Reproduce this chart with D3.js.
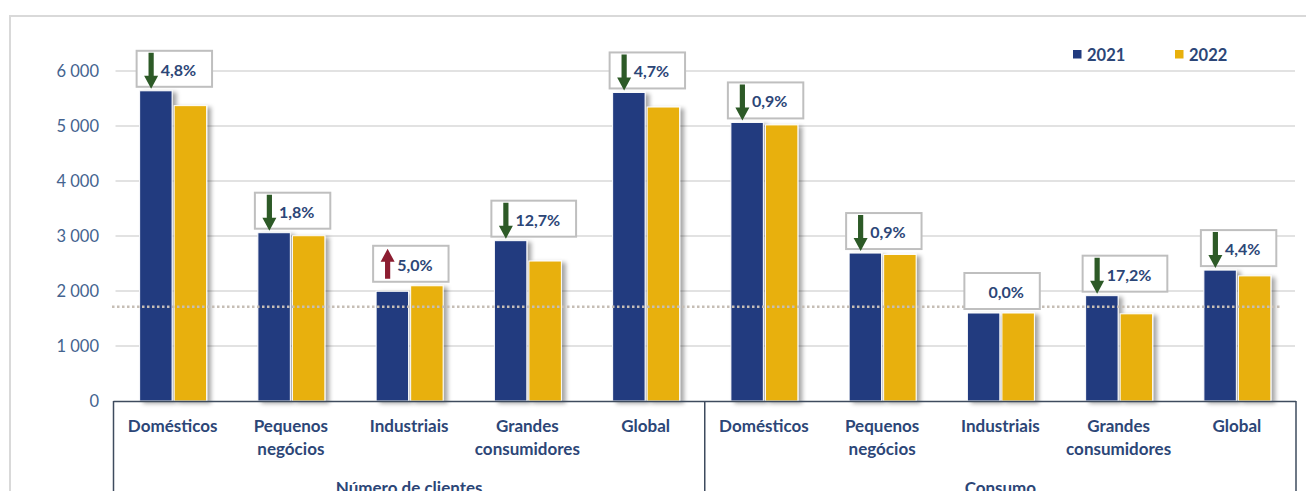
<!DOCTYPE html>
<html>
<head>
<meta charset="utf-8">
<script src="https://cdn.jsdelivr.net/npm/d3@7"></script>
<style>
  html, body { margin: 0; padding: 0; background: #fff; }
  svg { display: block; font-family: Lato, "Open Sans", sans-serif; }
</style>
</head>
<body>
<svg id="chart" width="1306" height="491"></svg>
<script>
// Segment groups and customer categories
const groups = ["Número de clientes", "Consumo"];
const categories = ["Domésticos", "Pequenos negócios", "Industriais", "Grandes consumidores", "Global"];
const years = ["2021", "2022"];

// Values per segment (first five: number of clients, last five: consumption)
const values2021 = [5640, 3060, 1995, 2915, 5610, 5065, 2690, 1600, 1915, 2380];
const values2022 = [5370, 3005, 2095, 2545, 5345, 5020, 2665, 1600, 1585, 2275];

// Year-on-year change shown above each pair of bars
const changeLabels = ["4,8%", "1,8%", "5,0%", "12,7%", "4,7%", "0,9%", "0,9%", "0,0%", "17,2%", "4,4%"];
const changeDirections = ["down", "down", "up", "down", "down", "down", "down", "none", "down", "down"];

// Reference level (dotted line)
const referenceValue = 1715;

const yTicks = [0, 1000, 2000, 3000, 4000, 5000, 6000];

const colors = { "2021": "#213B7F", "2022": "#E8B00B" };
const arrowColors = { down: "#2D5A27", up: "#8C1D31" };
const textColor = "#2C4677";

const rows = [];
groups.forEach((g, gi) => categories.forEach((c, ci) => {
  const i = gi * categories.length + ci;
  rows.push({ key: g + "|" + c, group: g, name: c,
    v2021: values2021[i], v2022: values2022[i],
    label: changeLabels[i], dir: changeDirections[i] });
}));

const svg = d3.select("#chart");
const plotLeft = 113.5, plotRight = 1296, plotTop = 71, plotBottom = 401;

const x = d3.scaleBand().domain(rows.map(d => d.key)).range([plotLeft, plotRight]).padding(0);
const bw = x.bandwidth();
const xInner = d3.scaleBand().domain(years).range([bw / 2 - 33, bw / 2 + 34]).paddingInner(0.06);
const y = d3.scaleLinear().domain([0, 6000]).range([plotBottom, plotTop]);

// Shadow for bars
const defs = svg.append("defs");
const f = defs.append("filter").attr("id", "barShadow")
  .attr("x", "-20%").attr("y", "-10%").attr("width", "160%").attr("height", "130%");
f.append("feDropShadow").attr("dx", 4).attr("dy", 2).attr("stdDeviation", 2)
  .attr("flood-color", "#000").attr("flood-opacity", 0.35);

// Outer chart frame
svg.append("rect").attr("x", 10).attr("y", 16).attr("width", 1320).attr("height", 500)
  .attr("fill", "none").attr("stroke", "#D9D9D9").attr("stroke-width", 2);

// Gridlines
svg.append("g").selectAll("line").data(yTicks.filter(t => t > 0)).join("line")
  .attr("x1", plotLeft + 2).attr("x2", plotRight - 1)
  .attr("y1", d => y(d)).attr("y2", d => y(d))
  .attr("stroke", "#D9D9D9").attr("stroke-width", 1.5);

// Y axis
const yAxis = d3.axisLeft(y).tickValues(yTicks)
  .tickFormat(d => d3.format(",")(d).replace(/,/g, " "))
  .tickSize(0).tickPadding(0);
const ya = svg.append("g").attr("transform", `translate(99,0)`).call(yAxis);
ya.select(".domain").remove();
ya.selectAll("text").attr("font-size", 16.5).attr("fill", "#44638F")
  .attr("font-family", "Lato, sans-serif");

// Bars
const barG = svg.append("g").selectAll("g").data(rows).join("g")
  .attr("transform", d => `translate(${x(d.key)},0)`);
barG.selectAll("rect").data(d => years.map(yr => ({ yr, v: d["v" + yr] }))).join("rect")
  .attr("x", d => xInner(d.yr)).attr("width", xInner.bandwidth())
  .attr("y", d => y(d.v)).attr("height", d => y(0) - y(d.v))
  .attr("fill", d => colors[d.yr])
  .attr("stroke", "#fff").attr("stroke-width", 1)
  .attr("filter", "url(#barShadow)");

// Dotted reference line
svg.append("line")
  .attr("x1", 112).attr("x2", 1281)
  .attr("y1", y(referenceValue)).attr("y2", y(referenceValue))
  .attr("stroke", "#C6BEB5").attr("stroke-width", 2.5)
  .attr("stroke-dasharray", "2.5 2.5");

// Change annotations
const boxH = 36;
const ann = svg.append("g").selectAll("g").data(rows).join("g");
ann.each(function (d) {
  const g = d3.select(this);
  const barLeft = x(d.key) + xInner("2021");
  const topVal = Math.max(d.v2021, d.v2022);
  const boxBottom = y(topVal) - 4;
  const boxTop = boxBottom - boxH;
  const boxLeft = barLeft - 3;
  const ax = barLeft + 11.5;
  const txt = g.append("text")
    .attr("font-size", 16).attr("font-weight", 700).attr("fill", textColor)
    .attr("dominant-baseline", "central")
    .attr("y", boxTop + boxH / 2 + 0.5)
    .text(d.label);
  const tw = txt.node().getComputedTextLength();
  const boxW = Math.max(75, tw + 40);
  if (d.dir === "none") {
    txt.attr("x", boxLeft + boxW / 2 + 4).attr("text-anchor", "middle");
  } else {
    txt.attr("x", ax + 9.5);
  }
  g.insert("rect", "text")
    .attr("x", boxLeft).attr("y", boxTop).attr("width", boxW).attr("height", boxH)
    .attr("fill", "#fff").attr("stroke", "#BFBFBF").attr("stroke-width", 2);
  if (d.dir !== "none") {
    const sw = 2.6, hw = 7, hh = 13;
    let pts;
    if (d.dir === "down") {
      const t0 = boxTop + 2, tip = boxBottom + 2;
      pts = [[ax - sw, t0], [ax + sw, t0], [ax + sw, tip - hh], [ax + hw, tip - hh],
             [ax, tip], [ax - hw, tip - hh], [ax - sw, tip - hh]];
    } else {
      const tip = boxTop + 3, b0 = boxBottom - 3;
      pts = [[ax - sw, b0], [ax + sw, b0], [ax + sw, tip + hh], [ax + hw, tip + hh],
             [ax, tip], [ax - hw, tip + hh], [ax - sw, tip + hh]];
    }
    g.append("path").attr("d", d3.line()(pts) + "Z").attr("fill", arrowColors[d.dir]);
  }
});

// Category frame below the bars
const frame = svg.append("g").attr("stroke", "#3E4B5E").attr("stroke-width", 1.5).attr("fill", "none");
frame.append("line").attr("x1", plotLeft).attr("x2", plotRight)
  .attr("y1", plotBottom + 0.5).attr("y2", plotBottom + 0.5);
const groupEdges = [plotLeft, x(rows[categories.length].key), plotRight];
frame.selectAll("line.v").data(groupEdges).join("line").attr("class", "v")
  .attr("x1", d => d).attr("x2", d => d).attr("y1", plotBottom).attr("y2", 500);

// Category labels
const catG = svg.append("g").selectAll("text").data(rows).join("text")
  .attr("x", d => x(d.key) + bw / 2).attr("y", 432)
  .attr("text-anchor", "middle").attr("font-size", 17).attr("font-weight", 700)
  .attr("fill", textColor);
catG.each(function (d) {
  const words = d.name.split(" ");
  d3.select(this).selectAll("tspan").data(words).join("tspan")
    .attr("x", x(d.key) + bw / 2).attr("dy", (w, i) => i === 0 ? 0 : 23).text(w => w);
});

// Group labels
svg.append("g").selectAll("text").data(groups).join("text")
  .attr("x", (g, i) => (groupEdges[i] + groupEdges[i + 1]) / 2).attr("y", 494)
  .attr("text-anchor", "middle").attr("font-size", 17).attr("font-weight", 700)
  .attr("fill", textColor).text(g => g);

// Legend
const lg = svg.append("g").selectAll("g").data(years).join("g")
  .attr("transform", (d, i) => `translate(${1073 + i * 102},50)`);
lg.append("rect").attr("width", 8.5).attr("height", 8.5).attr("fill", d => colors[d]);
lg.append("text").attr("x", 14).attr("y", 4.5).attr("dominant-baseline", "central")
  .attr("font-size", 16.5).attr("font-weight", 700).attr("fill", textColor).text(d => d);
</script>
</body>
</html>
